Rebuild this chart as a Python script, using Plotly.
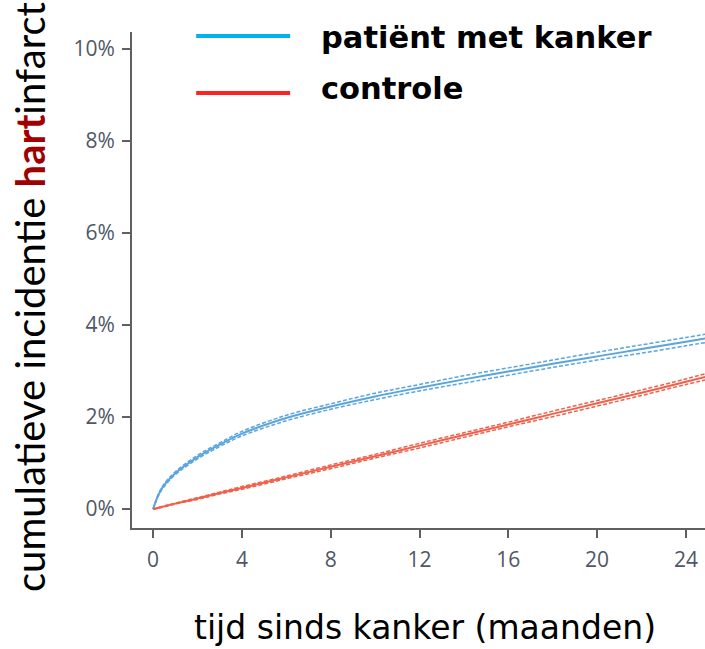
import plotly.graph_objects as go

# Follow-up time in months
months = [0, 0.25, 0.5, 1, 2, 3, 4, 6, 8, 10, 12, 14, 16, 18, 20, 22, 24, 25]

# Cumulative incidence (%) - patients with cancer
cancer = [0, 0.32, 0.52, 0.78, 1.13, 1.40, 1.64, 1.98, 2.23, 2.45, 2.64, 2.82, 2.99, 3.16, 3.32, 3.48, 3.64, 3.72]
cancer_lo = [0, 0.30, 0.49, 0.75, 1.09, 1.36, 1.59, 1.92, 2.17, 2.38, 2.57, 2.74, 2.91, 3.08, 3.24, 3.39, 3.55, 3.63]
cancer_hi = [0, 0.34, 0.55, 0.81, 1.17, 1.44, 1.69, 2.04, 2.29, 2.52, 2.71, 2.90, 3.07, 3.24, 3.41, 3.57, 3.73, 3.81]

# Cumulative incidence (%) - matched controls
control = [0, 0.03, 0.06, 0.12, 0.23, 0.35, 0.46, 0.69, 0.92, 1.15, 1.38, 1.61, 1.84, 2.07, 2.30, 2.53, 2.77, 2.89]
control_lo = [0, 0.02, 0.05, 0.11, 0.21, 0.33, 0.43, 0.66, 0.88, 1.11, 1.33, 1.56, 1.79, 2.01, 2.24, 2.47, 2.71, 2.82]
control_hi = [0, 0.04, 0.07, 0.13, 0.25, 0.37, 0.49, 0.72, 0.96, 1.19, 1.43, 1.66, 1.89, 2.13, 2.36, 2.59, 2.83, 2.96]

x_ticks = [0, 4, 8, 12, 16, 20, 24]
y_ticks = [0, 2, 4, 6, 8, 10]
y_labels = ["0%", "2%", "4%", "6%", "8%", "10%"]

BLUE = "#5aa5de"
RED = "#f0614c"

fig = go.Figure()
for y, lo, hi, col in [(cancer, cancer_lo, cancer_hi, BLUE), (control, control_lo, control_hi, RED)]:
    fig.add_trace(go.Scatter(x=months, y=lo, mode="lines", line=dict(color=col, width=1.5, dash="4px,2px", shape="spline"), hoverinfo="skip"))
    fig.add_trace(go.Scatter(x=months, y=hi, mode="lines", line=dict(color=col, width=1.5, dash="4px,2px", shape="spline"), hoverinfo="skip"))
    fig.add_trace(go.Scatter(x=months, y=y, mode="lines", line=dict(color=col, width=2, shape="spline")))

axis_common = dict(
    showgrid=False, zeroline=False, showline=True, linecolor="#606060", linewidth=2,
    ticks="outside", ticklen=8, tickwidth=2, tickcolor="#606060",
    tickfont=dict(family="Open Sans", size=21, color="#4f5766"),
)
fig.update_xaxes(range=[-0.95, 24.86], tickvals=x_ticks, ticktext=[str(t) for t in x_ticks],
                 ticklabelstandoff=4, **axis_common)
fig.update_yaxes(range=[-0.41, 10.37], tickvals=y_ticks, ticktext=y_labels,
                 ticklabelstandoff=3, **axis_common)

# Legend drawn as line samples with labels
fig.add_shape(type="line", xref="paper", yref="paper", x0=0.112, x1=0.276, y0=(528 - 36) / 496, y1=(528 - 36) / 496,
              line=dict(color="#00b0f0", width=4))
fig.add_shape(type="line", xref="paper", yref="paper", x0=0.112, x1=0.276, y0=(528 - 93) / 496, y1=(528 - 93) / 496,
              line=dict(color="#ff2222", width=4))
fig.add_annotation(xref="paper", yref="paper", x=(319 - 132) / 573, y=(528 - 38) / 496, xanchor="left", yanchor="middle",
                   text="<b>patiënt met kanker</b>", showarrow=False, font=dict(family="DejaVu Sans", size=30.5, color="black"))
fig.add_annotation(xref="paper", yref="paper", x=(319 - 132) / 573, y=(528 - 88) / 496, xanchor="left", yanchor="middle",
                   text="<b>controle</b>", showarrow=False, font=dict(family="DejaVu Sans", size=30.5, color="black"))

# Axis titles
fig.add_annotation(xref="paper", yref="paper", x=-0.178, y=(528 - 297) / 496, xanchor="center", yanchor="middle",
                   textangle=-90, showarrow=False,
                   text="cumulatieve incidentie <b><span style='color:#a00000'>hart</span></b>infarct",
                   font=dict(family="Lato", size=40, color="black"))
fig.add_annotation(xref="paper", yref="paper", x=(425 - 132) / 573, y=(528 - 627) / 496, xanchor="center", yanchor="middle",
                   showarrow=False, text="tijd sinds kanker (maanden)",
                   font=dict(family="DejaVu Sans", size=33, color="black"))

fig.update_layout(
    width=705, height=649, showlegend=False,
    margin=dict(l=132, r=0, t=32, b=121),
    plot_bgcolor="white", paper_bgcolor="white",
)
fig.write_html("out.html")
